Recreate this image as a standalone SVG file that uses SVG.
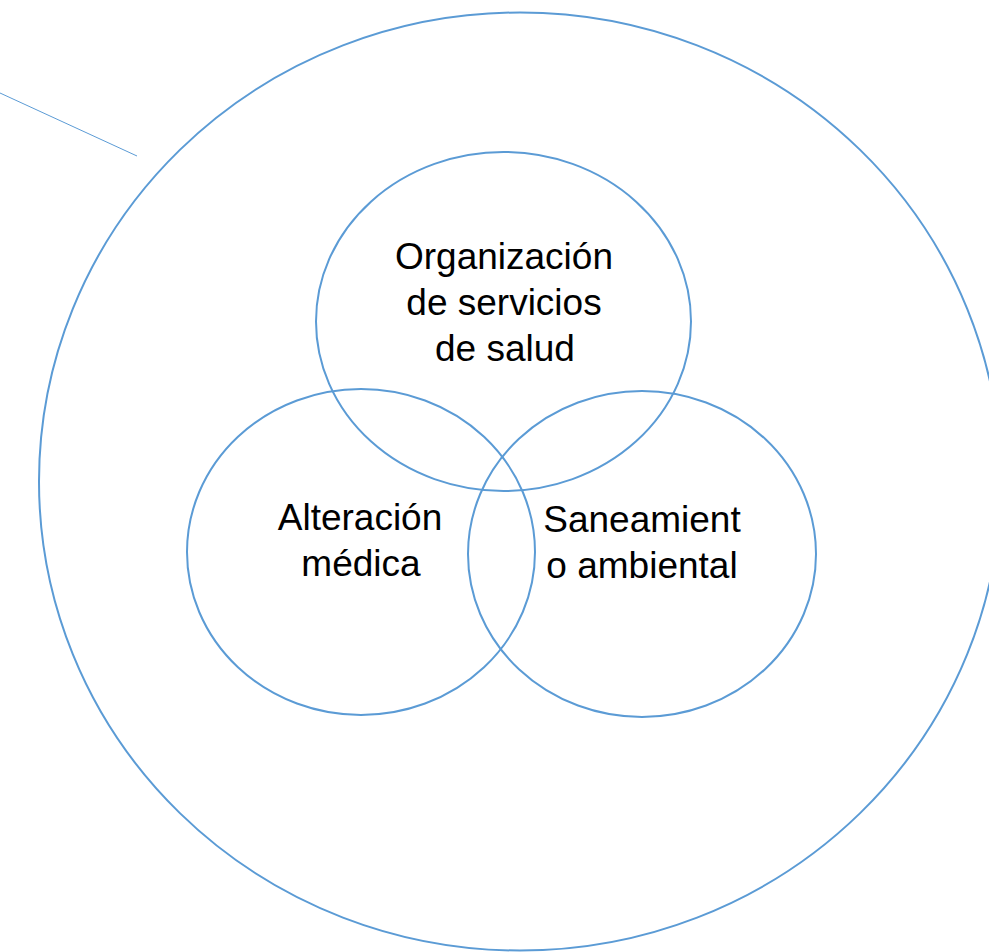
<svg xmlns="http://www.w3.org/2000/svg" width="989" height="952" viewBox="0 0 989 952">
<style>
.c{fill:none;stroke:#5B9BD5;stroke-width:2}
.t{font-family:"Liberation Sans",Arial,sans-serif;font-size:37px;fill:#000;text-anchor:middle}
</style>
<rect width="989" height="952" fill="#fff"/>
<g id="outer"><ellipse class="c" cx="520" cy="481.5" rx="481" ry="469"/></g>
<g id="connectors"><line x1="0" y1="93" x2="137" y2="156" stroke="#5B9BD5" stroke-width="1"/></g>
<g id="organizacion"><ellipse class="c" cx="503.5" cy="321.5" rx="187.5" ry="169.5"/>
<text class="t" x="504" y="269">Organización</text>
<text class="t" x="504" y="315">de servicios</text>
<text class="t" x="505" y="361">de salud</text></g>
<g id="alteracion"><ellipse class="c" cx="361" cy="552" rx="174" ry="163"/>
<text class="t" x="360" y="530">Alteración</text>
<text class="t" x="361" y="576">médica</text></g>
<g id="saneamiento"><ellipse class="c" cx="642" cy="554" rx="174" ry="163"/>
<text class="t" x="642" y="532">Saneamient</text>
<text class="t" x="642" y="578">o ambiental</text></g>
</svg>
